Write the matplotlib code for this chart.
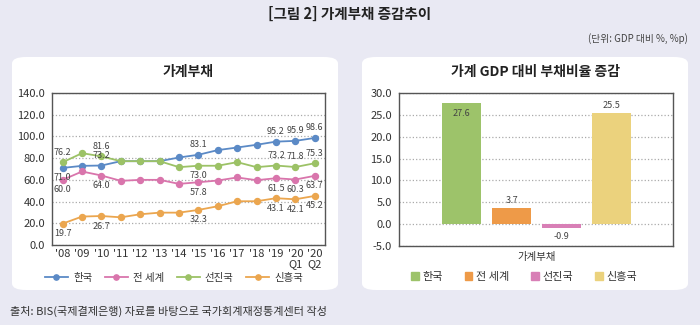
import numpy as np
import matplotlib
matplotlib.use("Agg")
import matplotlib.pyplot as plt
from matplotlib.patches import FancyBboxPatch
from matplotlib.lines import Line2D
from matplotlib.patches import Patch

plt.rcParams['font.family'] = ['Noto Sans CJK KR', 'DejaVu Sans']

# data
years = ["'08", "'09", "'10", "'11", "'12", "'13", "'14", "'15", "'16", "'17",
         "'18", "'19", "'20\nQ1", "'20\nQ2"]
korea = [71.0, 72.9, 73.2, 77.2, 77.2, 77.2, 80.6, 83.1, 87.4, 89.8, 92.3, 95.2, 95.9, 98.6]
world = [60.0, 67.7, 64.0, 59.1, 60.0, 60.0, 56.3, 57.8, 59.4, 62.2, 59.7, 61.5, 60.3, 63.7]
advanced = [76.2, 84.6, 81.6, 77.2, 77.2, 77.2, 71.7, 73.0, 73.0, 76.3, 71.7, 73.2, 71.8, 75.3]
emerging = [19.7, 26.2, 26.7, 25.5, 28.3, 29.8, 29.8, 32.3, 35.7, 40.3, 40.3, 43.1, 42.1, 45.2]
series_names = ['한국', '전 세계', '선진국', '신흥국']
labeled_idx = [0, 2, 7, 11, 12, 13]

change = [27.6, 3.7, -0.9, 25.5]

line_colors = ['#5b8ac6', '#d975ac', '#9cc266', '#eba64f']
bar_colors = ['#9dc36a', '#ee9a48', '#d87fb6', '#ebd27d']
bg = '#e9e9f3'
txt = '#333333'

fig = plt.figure(figsize=(7, 3.25), dpi=100, facecolor=bg)

# white rounded panels
for x0 in [12 / 700, 362 / 700]:
    fig.patches.append(FancyBboxPatch((x0, 35 / 325), 326 / 700, 233 / 325,
                                      boxstyle="round,pad=0,rounding_size=0.02",
                                      transform=fig.transFigure, facecolor='white',
                                      edgecolor='none', zorder=-1))

fig.text(0.5, 1 - 14 / 325, '[그림 2] 가계부채 증감추이', ha='center', va='center',
         fontsize=10.5, fontweight='bold', color='#222222')
fig.text(688 / 700, 1 - 39 / 325, '(단위: GDP 대비 %, %p)', ha='right', va='center',
         fontsize=7, color='#444444')
fig.text(10 / 700, 1 - 311 / 325, '출처: BIS(국제결제은행) 자료를 바탕으로 국가회계재정통계센터 작성',
         ha='left', va='center', fontsize=8, color=txt)

# left: line chart
ax = fig.add_axes([52 / 700, 1 - 245 / 325, 273 / 700, 152 / 325])
ax.set_zorder(2)
x = np.arange(len(years))
all_series = [korea, world, advanced, emerging]
for vals, c in zip(all_series, line_colors):
    ax.plot(x, vals, color=c, lw=1.3, marker='o', ms=4.3, zorder=3)

above = {0: [False, True, True, True, True, True],
         1: [False] * 6,
         2: [True, True, False, True, True, True],
         3: [False] * 6}
for si, vals in enumerate(all_series):
    for k, i in enumerate(labeled_idx):
        up = above[si][k]
        ax.annotate(f'{vals[i]:.1f}', (x[i], vals[i]), xytext=(0, 4 if up else -4),
                    textcoords='offset points', ha='center',
                    va='bottom' if up else 'top', fontsize=6.5, color='#444444', zorder=4)

ax.set_xlim(-0.55, 13.53)
ax.set_ylim(0, 140)
ax.set_yticks(np.arange(0, 141, 20))
ax.set_yticklabels([f'{v:.1f}' for v in np.arange(0, 141, 20)])
ax.set_xticks(x)
ax.set_xticklabels(years, linespacing=0.95)
ax.grid(axis='y', linestyle=':', color='#aaaaaa', lw=0.9)
ax.set_axisbelow(True)
ax.tick_params(length=0, labelsize=8, colors=txt, pad=3)
ax.tick_params(axis='y', pad=5)
for s in ax.spines.values():
    s.set_color('#555555')
    s.set_linewidth(1.0)
ax.set_title('가계부채', fontsize=10, fontweight='bold', color='#222222', pad=12)

handles = [Line2D([0], [0], color=c, lw=1.3, marker='o', ms=3.8) for c in line_colors]
fig.legend(handles, series_names, loc='center', bbox_to_anchor=(174 / 700, 1 - 278 / 325),
           ncol=4, frameon=False, fontsize=7.5, handlelength=2.2, columnspacing=1.2,
           handletextpad=0.5, labelcolor=txt)

# right: bar chart
ax2 = fig.add_axes([399 / 700, 1 - 246 / 325, 274 / 700, 153 / 325])
ax2.set_zorder(2)
bx = np.arange(len(change))
bars = ax2.bar(bx, change, width=0.78, color=bar_colors, zorder=3)
for i, v in enumerate(change):
    if i == 0:
        ax2.text(bx[i], v - 1.2, f'{v:.1f}', ha='center', va='top', fontsize=6.5, color='#444444', zorder=4)
    elif v >= 0:
        ax2.text(bx[i], v + 0.7, f'{v:.1f}', ha='center', va='bottom', fontsize=6.5, color='#444444', zorder=4)
    else:
        ax2.text(bx[i], v - 0.8, f'{v:.1f}', ha='center', va='top', fontsize=6.5, color='#444444', zorder=4)
ax2.set_xlim(-1.25, 4.23)
ax2.set_ylim(-5, 30)
ax2.set_yticks(np.arange(-5, 31, 5))
ax2.set_yticklabels([f'{v:.1f}' for v in np.arange(-5, 31, 5)])
ax2.set_xticks([1.5])
ax2.set_xticklabels(['가계부채'])
ax2.grid(axis='y', linestyle=':', color='#aaaaaa', lw=0.9)
ax2.set_axisbelow(True)
ax2.tick_params(length=0, labelsize=8, colors=txt, pad=4)
ax2.tick_params(axis='x', labelsize=7.5)
ax2.tick_params(axis='y', pad=5)
for s in ax2.spines.values():
    s.set_color('#555555')
    s.set_linewidth(1.0)
ax2.set_title('가계 GDP 대비 부채비율 증감', fontsize=10, fontweight='bold', color='#222222', pad=12)

bh = [Patch(color=c) for c in bar_colors]
fig.legend(bh, series_names, loc='center', bbox_to_anchor=(524 / 700, 1 - 277 / 325),
           ncol=4, frameon=False, fontsize=8, handlelength=0.7, handleheight=0.7,
           columnspacing=2.0, handletextpad=0.3, labelcolor=txt)

fig.savefig('out.png', dpi=100, facecolor=bg)
